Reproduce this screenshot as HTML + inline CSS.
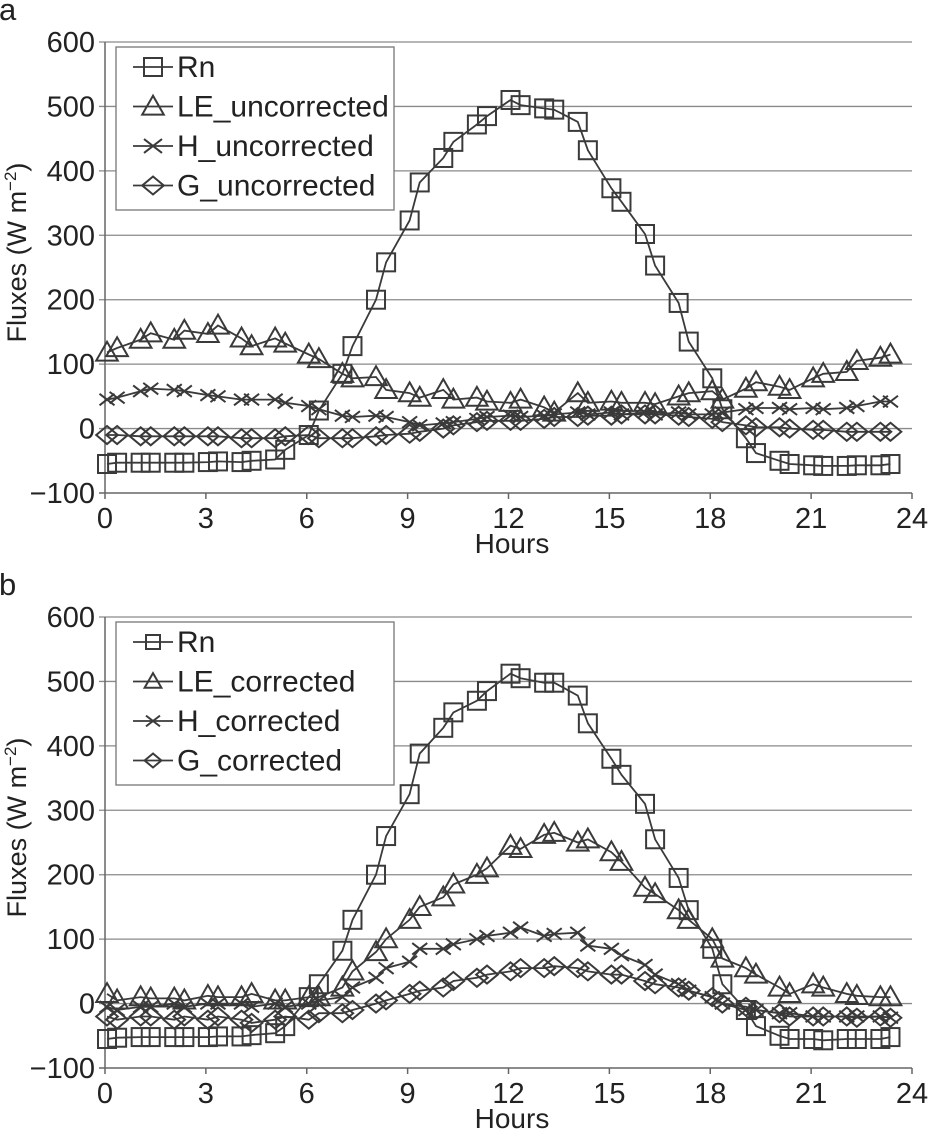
<!DOCTYPE html>
<html><head><meta charset="utf-8">
<style>
body{margin:0;background:#fff;}
svg{display:block;font-family:"Liberation Sans",Arial,sans-serif;}
</style></head>
<body>
<svg id="chart" width="931" height="1129" viewBox="0 0 931 1129" xmlns="http://www.w3.org/2000/svg"></svg>
<script>
const hours = [];
for (let h = 0; h < 24; h++) { hours.push(h + 0.06, h + 0.36); }
const xTicks = [0,3,6,9,12,15,18,21,24];
const yTicks = [-100,0,100,200,300,400,500,600];
const yTickLabels = ["\u2212100","0","100","200","300","400","500","600"];

const rnA = [-55,-53,-53,-53,-53,-53,-52,-51,-52,-50,-48,-33,-10,28,85,128,200,258,323,382,420,445,472,485,510,502,497,495,476,432,373,352,302,253,195,135,78,30,-15,-38,-50,-55,-57,-58,-58,-57,-57,-55];
const leA = [118,125,138,148,138,152,147,160,140,128,140,132,115,108,85,78,80,60,55,48,60,45,48,42,40,45,33,25,55,40,42,40,40,38,50,55,58,45,62,72,65,60,78,85,88,105,110,115];
const hA = [45,48,58,62,60,58,52,50,45,45,45,40,35,30,20,18,20,18,10,5,8,10,15,18,20,18,20,22,25,22,25,22,25,22,25,22,22,25,30,32,32,30,32,30,32,35,42,42];
const gA = [-10,-10,-12,-12,-12,-12,-12,-12,-15,-15,-15,-12,-10,-15,-15,-15,-12,-10,-8,-5,0,5,10,12,12,12,15,18,18,20,20,22,22,22,20,18,15,10,5,2,2,0,-2,-2,-5,-5,-5,-5];

const rnB = [-55,-53,-52,-52,-52,-52,-52,-51,-51,-49,-46,-35,10,30,82,130,200,260,325,388,428,452,470,485,512,505,498,498,478,435,380,355,310,255,195,145,85,30,-10,-35,-50,-55,-55,-57,-55,-55,-55,-52];
const leB = [15,5,10,8,8,5,12,10,10,15,5,5,10,10,25,50,80,100,130,150,165,185,200,210,245,240,262,265,250,255,235,220,180,170,145,130,100,70,55,45,25,15,30,25,15,12,10,10];
const hB = [-5,-10,-5,-5,0,-5,0,0,0,-5,0,-5,0,5,10,25,40,55,65,85,85,92,100,105,110,118,105,108,110,90,85,75,60,45,30,20,10,0,-10,-10,-15,-15,-20,-20,-20,-20,-20,-22];
const gB = [-20,-25,-20,-20,-25,-20,-25,-20,-25,-30,-25,-20,-25,-15,-15,-10,0,5,15,20,25,35,40,45,50,55,55,58,55,50,45,45,35,30,25,20,10,0,-5,-10,-15,-20,-20,-20,-20,-22,-20,-22];

const NS = "http://www.w3.org/2000/svg";
const svg = document.getElementById("chart");
const C = "#3a3a3a";
function mk(tag, attrs, parent) {
  const e = document.createElementNS(NS, tag);
  for (const k in attrs) e.setAttribute(k, attrs[k]);
  (parent || svg).appendChild(e);
  return e;
}
function marker(g, type, x, y, s) {
  let e;
  if (type === "sq") e = mk("rect", {x:x-s/2, y:y-s/2, width:s, height:s, fill:"none", stroke:C, "stroke-width":2}, g);
  else if (type === "tri") e = mk("polygon", {points:`${x},${y-s*0.6} ${x-s*0.6},${y+s*0.45} ${x+s*0.6},${y+s*0.45}`, fill:"none", stroke:C, "stroke-width":2}, g);
  else if (type === "x") e = mk("path", {d:`M${x-s/2},${y-s/2.6}L${x+s/2},${y+s/2.6}M${x-s/2},${y+s/2.6}L${x+s/2},${y-s/2.6}`, fill:"none", stroke:C, "stroke-width":2}, g);
  else e = mk("polygon", {points:`${x},${y-s/2} ${x+s*0.6},${y} ${x},${y+s/2} ${x-s*0.6},${y}`, fill:"none", stroke:C, "stroke-width":2}, g);
  return e;
}
function panel(top, letter, series, names, legW, legMs) {
  const x0 = 105, x1 = 912, yT = top, yB = top + 451;
  const X = v => x0 + (v / 24) * (x1 - x0);
  const Y = v => yB - ((v + 100) / 700) * (yB - yT);
  const g = mk("g", {});
  
  
  const lt = mk("text", {x:-1, y:top - 22, "font-size":31, fill:"#222"}, g);
  lt.textContent = letter;
  
  
  yTicks.forEach((v, i) => {
    if (v > -100) {
      const gl = mk("line", {x1:x0 - 6, x2:x1, y1:Y(v), y2:Y(v), stroke:"#8a8a8a", "stroke-width":1.3}, g);
      
      
    }
    const t = mk("text", {x:95, y:Y(v) + 10, "text-anchor":"end", "font-size":29, fill:"#222"}, g);
    t.textContent = yTickLabels[i];
    
    
  });
  mk("line", {x1:x0, x2:x0, y1:yT, y2:yB, stroke:"#666", "stroke-width":1.5}, g);
  mk("line", {x1:x0 - 6, x2:x1, y1:yB, y2:yB, stroke:"#666", "stroke-width":1.5}, g);
  xTicks.forEach(v => {
    mk("line", {x1:X(v), x2:X(v), y1:yB, y2:yB + 6, stroke:"#666", "stroke-width":1.5}, g);
    const t = mk("text", {x:X(v), y:yB + 35, "text-anchor":"middle", "font-size":29, fill:"#222"}, g);
    t.textContent = v;
    
    
  });
  const xt = mk("text", {x:512, y:yB + 60, "text-anchor":"middle", "font-size":28, fill:"#222"}, g);
  xt.textContent = "Hours";
  
  
  const cy = (yT + yB) / 2 - 15;
  const yt = mk("text", {x:0, y:0, transform:`translate(26,${cy}) rotate(-90)`, "text-anchor":"middle", "font-size":27, fill:"#222"}, g);
  yt.innerHTML = 'Fluxes (W m<tspan dy="-10" font-size="17">\u22122</tspan><tspan dy="10">)</tspan>';
  
  
  const types = ["sq","tri","x","dia"];
  series.forEach((vals, si) => {
    const sg = mk("g", {}, g);
    
    
    const pts = vals.map((v, i) => `${X(hours[i]).toFixed(1)},${Y(v).toFixed(1)}`).join(" ");
    const pl = mk("polyline", {points:pts, fill:"none", stroke:C, "stroke-width":1.8}, sg);
    
    
    vals.forEach((v, i) => {
      const m = marker(sg, types[si], X(hours[i]), Y(v), types[si] === "x" ? 15 : 18);
      
      
    });
  });
  const lg = mk("g", {}, g);
  
  
  mk("rect", {x:116, y:top + 5, width:legW, height:163, fill:"#fff", stroke:"#777", "stroke-width":1.3}, lg);
  names.forEach((n, i) => {
    const ly = top + 25 + i * 39.5;
    const ent = mk("g", {}, lg);
    
    
    mk("line", {x1:133, x2:173, y1:ly, y2:ly, stroke:C, "stroke-width":1.8}, ent);
    marker(ent, types[i], 153, ly, legMs);
    const t = mk("text", {x:177, y:ly + 10, "font-size":30, fill:"#222"}, ent);
    t.textContent = n;
  });
}
panel(42, "a", [rnA, leA, hA, gA], ["Rn","LE_uncorrected","H_uncorrected","G_uncorrected"], 278, 18);
panel(617, "b", [rnB, leB, hB, gB], ["Rn","LE_corrected","H_corrected","G_corrected"], 278, 14);
</script>
</body></html>
